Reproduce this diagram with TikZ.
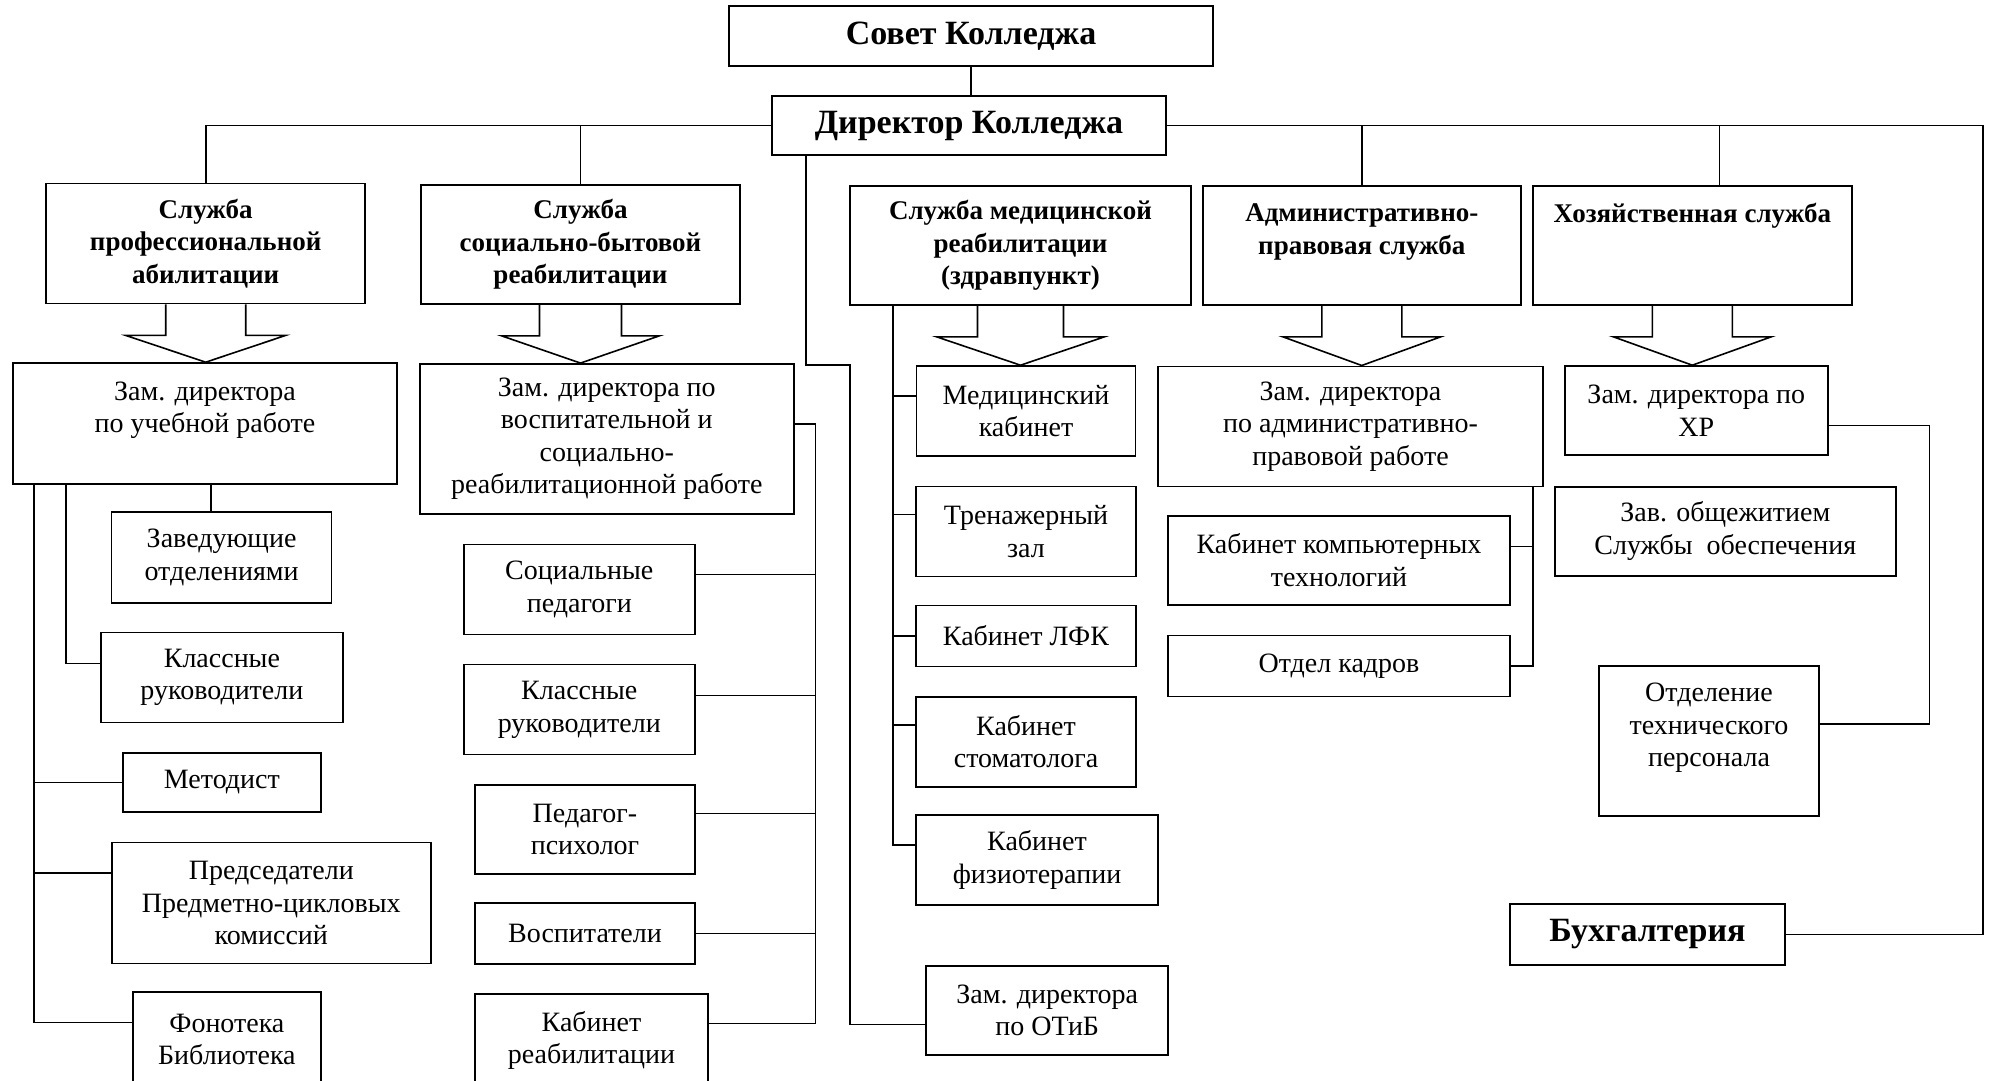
\documentclass[tikz,border=0pt]{standalone}
\usepackage{fontspec}
\setmainfont{Liberation Serif}
\usetikzlibrary{calc}
\newcommand*{\lw }{1.6pt}
\newcommand*{\ahd}{31}
% block arrow from an upper box down to a lower box
\newcommand*{\barrow}[4]{%
    \path (#1.south) ++(0,-\ahd) coordinate (#1-h);
    \draw [ln, line join=miter] ([xshift=-#3]#1.south) -- ([xshift=-#3]#1-h) -- ([xshift=-#4]#1-h)
        -- (#1.south |- #2.north) -- ([xshift=#4]#1-h) -- ([xshift=#3]#1-h) -- ([xshift=#3]#1.south);}
\tikzset{
    bx/.style 2 args={draw, line width=\lw, align=center, inner sep=0pt,
        minimum width=#1, minimum height=#2, font=\fontsize{28}{32.5}\selectfont},
    hd/.style={font=\bfseries\fontsize{27}{32.5}\selectfont},
    big/.style={font=\bfseries\fontsize{34}{40}\selectfont},
    ln/.style={line width=\lw}
}

\begin{document}
\begin{tikzpicture}[x=1pt, y=1pt]
    \useasboundingbox (0,0) rectangle (1991,-1081);
    \clip (0,0) rectangle (1991,-1081);
        \node [bx={484}{60}, big] (sovet) at (971,-36) {Совет Колледжа};
        \node [bx={394}{59}, big] (dir) at (969,-125.5) {Директор Колледжа};
        \node [bx={319}{120}, hd] (s1) at (205.7,-243.6) {Служба\\профессиональной\\абилитации};
        \node [bx={319}{119}, hd] (s2) at (580.5,-244.5) {Служба\\социально-бытовой\\реабилитации};
        \node [bx={341}{119}, hd] (s3) at (1020.5,-245.5) {Служба медицинской\\реабилитации\\(здравпункт)};
        \node [bx={318}{119}, hd] (s4) at (1361.8,-245.5) {Административно-\\правовая служба\\\mbox{}};
        \node [bx={319}{119}, hd] (s5) at (1692.3,-245.5) {Хозяйственная служба\\\mbox{}\\\mbox{}};
        \node [bx={384}{121}] (zu) at (205,-423.5) {Зам. директора\\по учебной работе\\\mbox{}};
        \node [bx={374}{150}] (zv) at (606.8,-438.9) {Зам. директора по\\воспитательной и\\социально-\\реабилитационной работе};
        \node [bx={219}{90}] (mk) at (1026,-411) {Медицинский\\кабинет};
        \node [bx={385}{120}] (zadm) at (1350.5,-426.3) {Зам. директора\\по административно-\\правовой работе};
        \node [bx={263}{89}] (zhr) at (1696.3,-410.5) {Зам. директора по\\ХР};
        %left column
        \node [bx={220}{91}] (zav) at (221.6,-557.3) {Заведующие\\отделениями};
        \node [bx={242}{90}] (kl1) at (221.9,-677.5) {Классные\\руководители};
        \node [bx={198}{59}] (metod) at (221.9,-782.5) {Методист};
        \node [bx={319}{121}] (pred) at (271.3,-903) {Председатели\\Предметно-цикловых\\комиссий};
        \node [bx={188}{95}] (fon) at (226.9,-1039.4) {Фонотека\\Библиотека};
        \node [bx={231}{90}] (sp) at (579.3,-589.5) {Социальные\\педагоги};
        \node [bx={231}{90}] (kr) at (579.3,-709.6) {Классные\\руководители};
        \node [bx={220}{89}] (pp) at (585,-829.5) {Педагог-\\психолог};
        \node [bx={220}{61}] (vosp) at (585,-933.4) {Воспитатели};
        \node [bx={233}{93}] (kreab) at (591.5,-1040.3) {Кабинет\\реабилитации};
        %medical column
        \node [bx={220}{90}] (trz) at (1026,-531.6) {Тренажерный\\зал};
        \node [bx={220}{61}] (lfk) at (1026,-636) {Кабинет ЛФК};
        \node [bx={220}{90}] (stom) at (1026,-741.8) {Кабинет\\стоматолога};
        \node [bx={242}{90}] (fiz) at (1037,-859.9) {Кабинет\\физиотерапии};
        \node [bx={242}{89}] (otib) at (1047.2,-1010.3) {Зам. директора\\по ОТиБ};
        \node [bx={342}{89}] (kkt) at (1339,-560.3) {Кабинет компьютерных\\технологий};
        \node [bx={342}{61}] (kadr) at (1339,-666.1) {Отдел кадров};
        \node [bx={341}{89}] (zob) at (1725.3,-531.2) {Зав. общежитием\\Службы\ \ обеспечения};
        \node [bx={220}{150}] (otp) at (1709,-741) {Отделение\\технического\\персонала\\\mbox{}};
        \node [bx={275}{61}, big] (buh) at (1647.5,-934.3) {Бухгалтерия};

        \barrow{s1}{zu}{40}{80}
        \barrow{s2}{zv}{41}{79}
        \barrow{s3}{mk}{43}{84}
        \barrow{s4}{zadm}{40}{79}
        \barrow{s5}{zhr}{40}{79}

        \coordinate (rgt) at (1983,-125);
        \coordinate (k1) at (850,-365);
        \draw [ln] (sovet.south) -- (sovet.south |- dir.north);
        \draw [ln] (dir.west) -| (s1.north);
        \draw [ln] (s2.north) -- (s2.north |- dir.west);
        \draw [ln] (dir.east) -| (rgt) |- (buh.east);
        \draw [ln] (s4.north) -- (s4.north |- dir.east);
        \draw [ln] ([xshift=27]s5.north) -- ([xshift=27]s5.north |- dir.east);
        \draw [ln] ([xshift=35]dir.south west) |- (k1) |- ([yshift=-14]otib.west);

        \coordinate (lt) at ([xshift=22]zu.south west);
        \draw [ln] (lt) |- ([yshift=17]fon.west);
        \draw [ln] ([xshift=54]zu.south west) |- ([yshift=14]kl1.west);
        \draw [ln] ([xshift=6]zu.south) -- ([xshift=6]zu.south |- zav.north);
        \draw [ln] (metod.west) -- (metod.west -| lt);
        \draw [ln] ([yshift=30]pred.west) -- ([yshift=30]pred.west -| lt);

        \draw [ln] ([yshift=15]zv.east) -- ++(21,0) coordinate (st) |- ([yshift=17]kreab.east);
        \draw [ln] ([yshift=15]sp.east) -- ([yshift=15]sp.east -| st);
        \draw [ln] ([yshift=14]kr.east) -- ([yshift=14]kr.east -| st);
        \draw [ln] ([yshift=16]pp.east) -- ([yshift=16]pp.east -| st);
        \draw [ln] (vosp.east) -- (vosp.east -| st);

        \coordinate (mt) at ([xshift=44]s3.south west);
        \draw [ln] (mt) |- ([yshift=15]fiz.west);
        \draw [ln] ([yshift=15]mk.west) -- ([yshift=15]mk.west -| mt);
        \draw [ln] ([yshift=17]trz.west) -- ([yshift=17]trz.west -| mt);
        \draw [ln] (lfk.west) -- (lfk.west -| mt);
        \draw [ln] ([yshift=17]stom.west) -- ([yshift=17]stom.west -| mt);

        \coordinate (at) at ([xshift=-11]zadm.south east);
        \draw [ln] (at) |- (kadr.east);
        \draw [ln] ([yshift=14]kkt.east) -- ([yshift=14]kkt.east -| at);

        \draw [ln] ([yshift=-15]zhr.east) -- ++(101,0) coordinate (hzt) |- ([yshift=17]otp.east);
    \end{tikzpicture}
\end{document}
